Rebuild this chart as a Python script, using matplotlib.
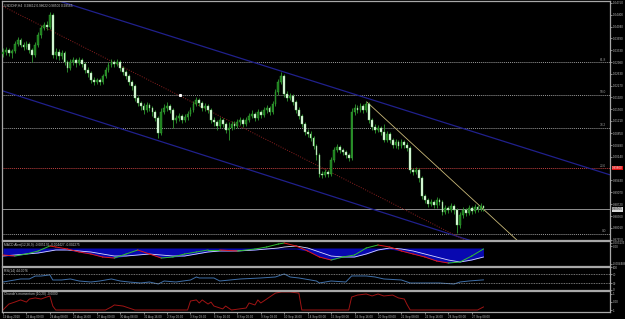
import matplotlib
matplotlib.use("Agg")
import matplotlib.pyplot as plt
import numpy as np

plt.rcParams["font.family"] = ["Liberation Sans", "DejaVu Sans"]

# ---------------- data ----------------
first_open = 1.0322
closes = [1.0328,1.0334,1.0325,1.0331,1.0352,1.0364,1.0349,1.0343,1.0352,1.0334,
          1.0319,1.0349,1.0379,1.0400,1.0409,1.0403,1.0439,1.0319,1.0328,1.0316,
          1.0325,1.0298,1.0280,1.0298,1.0304,1.0295,1.0304,1.0292,1.0274,1.0265,
          1.0244,1.0238,1.0244,1.0238,1.0256,1.0274,1.0289,1.0298,1.0292,1.0298,
          1.0280,1.0268,1.0256,1.0238,1.0226,1.0190,1.0175,1.0166,1.0154,1.0169,
          1.0160,1.0148,1.0130,1.0085,1.0148,1.0160,1.0166,1.0154,1.0124,1.0130,
          1.0136,1.0124,1.0133,1.0142,1.0154,1.0172,1.0184,1.0175,1.0160,1.0166,
          1.0154,1.0124,1.0118,1.0106,1.0124,1.0112,1.0094,1.0100,1.0112,1.0106,
          1.0118,1.0124,1.0112,1.0124,1.0136,1.0142,1.0130,1.0148,1.0139,1.0154,
          1.0160,1.0148,1.0172,1.0208,1.0238,1.0256,1.0202,1.0190,1.0196,1.0178,
          1.0154,1.0136,1.0112,1.0088,1.0082,1.0070,1.0046,1.0019,0.9962,0.9959,
          0.9968,0.9962,1.0004,1.0034,1.0043,1.0034,1.0028,1.0019,1.0010,1.0148,
          1.0160,1.0154,1.0166,1.0154,1.0172,1.0124,1.0103,1.0094,1.0100,1.0088,
          1.0064,1.0082,1.0064,1.0049,1.0058,1.0046,1.0058,1.0049,1.0040,0.9974,
          0.9968,0.9974,0.9950,0.9896,0.9884,0.9872,0.9878,0.9869,0.9884,0.9878,
          0.9848,0.9860,0.9854,0.9866,0.9854,0.9809,0.9839,0.9854,0.9845,0.9860,
          0.9851,0.9863,0.9857,0.9866,0.9860]
highs = [1.0340,1.0343,1.0340,1.0337,1.0361,1.0373,1.0370,1.0358,1.0361,1.0358,
         1.0340,1.0358,1.0388,1.0409,1.0418,1.0421,1.0448,1.0445,1.0340,1.0337,
         1.0334,1.0331,1.0304,1.0307,1.0313,1.0310,1.0313,1.0310,1.0298,1.0283,
         1.0271,1.0253,1.0250,1.0250,1.0262,1.0283,1.0298,1.0307,1.0304,1.0307,
         1.0304,1.0286,1.0274,1.0262,1.0244,1.0232,1.0196,1.0181,1.0175,1.0178,
         1.0175,1.0166,1.0154,1.0136,1.0160,1.0172,1.0178,1.0172,1.0160,1.0139,
         1.0145,1.0142,1.0142,1.0151,1.0163,1.0181,1.0193,1.0190,1.0181,1.0175,
         1.0172,1.0160,1.0133,1.0124,1.0133,1.0130,1.0118,1.0118,1.0121,1.0121,
         1.0127,1.0133,1.0130,1.0133,1.0145,1.0154,1.0148,1.0157,1.0154,1.0163,
         1.0169,1.0166,1.0181,1.0217,1.0247,1.0268,1.0262,1.0211,1.0205,1.0202,
         1.0184,1.0163,1.0142,1.0118,1.0097,1.0091,1.0076,1.0052,1.0025,0.9971,
         0.9977,0.9974,1.0013,1.0043,1.0052,1.0049,1.0040,1.0034,1.0025,1.0160,
         1.0172,1.0169,1.0175,1.0172,1.0181,1.0178,1.0130,1.0112,1.0109,1.0106,
         1.0112,1.0091,1.0088,1.0070,1.0067,1.0064,1.0067,1.0064,1.0058,1.0046,
         0.9980,0.9983,0.9980,0.9956,0.9902,0.9890,0.9887,0.9884,0.9893,0.9890,
         0.9884,0.9869,0.9866,0.9875,0.9872,0.9860,0.9848,0.9863,0.9860,0.9869,
         0.9866,0.9872,0.9869,0.9875,0.9869]
lows = [1.0313,1.0319,1.0316,1.0310,1.0325,1.0346,1.0343,1.0334,1.0337,1.0325,
        1.0298,1.0313,1.0343,1.0370,1.0394,1.0394,1.0397,1.0310,1.0307,1.0304,
        1.0307,1.0289,1.0268,1.0274,1.0289,1.0283,1.0289,1.0283,1.0265,1.0253,
        1.0235,1.0229,1.0232,1.0229,1.0232,1.0250,1.0268,1.0283,1.0283,1.0286,
        1.0271,1.0259,1.0247,1.0229,1.0214,1.0181,1.0166,1.0154,1.0142,1.0148,
        1.0151,1.0136,1.0121,1.0070,1.0079,1.0142,1.0151,1.0145,1.0100,1.0115,
        1.0121,1.0115,1.0118,1.0124,1.0136,1.0148,1.0166,1.0166,1.0151,1.0151,
        1.0145,1.0115,1.0106,1.0094,1.0100,1.0103,1.0085,1.0064,1.0094,1.0097,
        1.0100,1.0109,1.0103,1.0106,1.0118,1.0130,1.0121,1.0124,1.0130,1.0133,
        1.0145,1.0139,1.0142,1.0166,1.0199,1.0232,1.0193,1.0181,1.0184,1.0169,
        1.0145,1.0127,1.0103,1.0079,1.0073,1.0061,1.0037,1.0004,0.9953,0.9950,
        0.9953,0.9953,0.9956,0.9998,1.0028,1.0025,1.0019,1.0010,1.0001,1.0004,
        1.0139,1.0145,1.0148,1.0145,1.0148,1.0115,1.0094,1.0085,1.0088,1.0079,
        1.0058,1.0058,1.0055,1.0040,1.0040,1.0037,1.0040,1.0040,1.0031,0.9965,
        0.9959,0.9962,0.9938,0.9887,0.9875,0.9863,0.9866,0.9860,0.9860,0.9869,
        0.9839,0.9842,0.9845,0.9848,0.9842,0.9785,0.9800,0.9830,0.9836,0.9839,
        0.9842,0.9845,0.9848,0.9851,0.9851]
opens = [first_open] + closes[:-1]   # FX bars open at the previous close

price_ticks = [1.04750,1.04400,1.04040,1.03690,1.03330,1.02980,1.02630,1.02270,
               1.01920,1.01560,1.01210,1.00850,1.00490,1.00140,0.99430,
               0.99070,0.98720,0.98360,0.98010,0.97650]
time_labels = ["19 Aug 2010","23 Aug 00:00","24 Aug 08:00","25 Aug 16:00","27 Aug 00:00",
               "30 Aug 08:00","31 Aug 16:00","2 Sep 00:00","3 Sep 08:00","6 Sep 16:00",
               "8 Sep 00:00","9 Sep 08:00","10 Sep 16:00","14 Sep 00:00","15 Sep 08:00",
               "16 Sep 16:00","20 Sep 00:00","21 Sep 08:00","22 Sep 16:00","24 Sep 00:00",
               "27 Sep 08:00"]
time_label_bars = list(range(0, 161, 8))

fib_low, fib_high = 0.9782, 1.0616
fib_levels = [0.0, 23.6, 38.2, 50.0, 61.8]
bid_price = 0.98565
alert_price = 0.99800

upper_channel = ([0, 207], [1.0534, 0.9960])
lower_channel = ([0, 207], [1.0211, 0.9629])
regression_line = ([0, 207], [1.0465, 0.9544])
trend_line = ([124.2, 175.4], [1.0178, 0.9764])

ind_bars = [0,4,8,12,16,18,22,26,30,34,38,42,46,50,54,58,62,66,70,74,80,86,90,94,96,
            100,104,108,112,116,120,124,128,132,136,140,144,148,152,156,160,164]
macd_main = [-0.0028,-0.0032,-0.0024,-0.0012,0.0008,0.0004,-0.0004,-0.0016,-0.0024,-0.0036,
             -0.0040,-0.0024,-0.0008,-0.0024,-0.0040,-0.0036,-0.0024,-0.0016,-0.0008,-0.0008,
             -0.0012,-0.0004,0.0004,0.0016,0.0020,0.0008,-0.0012,-0.0036,-0.0048,-0.0036,
             -0.0028,0.0000,0.0012,0.0004,-0.0012,-0.0024,-0.0036,-0.0052,-0.0060,-0.0056,
             -0.0032,-0.0004]
macd_signal = [-0.0032,-0.0028,-0.0024,-0.0020,-0.0012,-0.0008,-0.0008,-0.0012,-0.0016,-0.0024,
               -0.0032,-0.0032,-0.0028,-0.0024,-0.0028,-0.0032,-0.0032,-0.0024,-0.0016,-0.0012,
               -0.0012,-0.0008,-0.0004,0.0000,0.0004,0.0008,0.0000,-0.0016,-0.0032,-0.0036,
               -0.0036,-0.0024,-0.0008,0.0000,-0.0004,-0.0012,-0.0024,-0.0036,-0.0048,-0.0056,
               -0.0048,-0.0036]
macd_hist = [-0.0032,-0.0032,-0.0024,-0.0020,-0.0012,-0.0008,-0.0008,-0.0016,-0.0024,-0.0036,
             -0.0040,-0.0032,-0.0028,-0.0024,-0.0040,-0.0036,-0.0032,-0.0024,-0.0016,-0.0012,
             -0.0012,-0.0008,-0.0004,-0.0004,-0.0004,-0.0004,-0.0012,-0.0036,-0.0048,-0.0036,
             -0.0036,-0.0024,-0.0008,-0.0004,-0.0012,-0.0024,-0.0036,-0.0052,-0.0060,-0.0056,
             -0.0048,-0.0036]

rsi_bars = [0,2,6,9,11,13,16,17,20,23,26,30,33,37,40,43,47,50,53,55,59,64,66,67,72,74,81,
            88,93,96,98,101,107,108,112,117,119,124,127,130,136,139,142,144,149,154,156,159,164]
rsi_vals = [34.6,39,48,48,61,61,66,43.5,43.5,48,39,34.6,39,48,39,34.6,30.2,34.6,25.8,39,34.6,
            43.5,56.8,52.4,52.4,39,48,52.4,56.8,70.2,56.8,52.4,39,30.2,39,34.6,61.3,61.3,56.8,
            48,43.5,30.2,30.2,30.2,30.2,25.8,34.6,39,44.0]

cmo_bars = [0,1,2,4,6,8,9,11,13,14,16,17,18,35,37,38,41,43,45,63,64,66,67,68,70,71,72,75,76,
            78,83,84,86,87,88,91,93,95,98,101,102,118,119,121,124,126,128,130,133,135,137,138,
            139,162,164]
cmo_vals = [0,0.17,0.33,0.44,0.56,0.44,0.61,0.67,0.61,0.67,0.78,0.22,0,0,0.17,0.28,0.22,0.11,0,
            0,0.5,0.56,0.39,0.56,0.33,0.44,0.22,0.06,0.22,0,0.11,0.39,0.28,0.56,0.39,0.72,0.94,
            1.0,1.0,0.94,0,0,0.72,0.83,0.89,0.78,0.89,0.78,0.83,0.67,0.61,0.28,0,0,0.17]

# ---------------- figure ----------------
W, H = 625, 319
fig = plt.figure(figsize=(W/100, H/100), dpi=100, facecolor="black")
TICKFS = 2.2
TITLEFS = 2.3

def px_axes(left, top, right, bottom):
    a = fig.add_axes([left/W, 1-bottom/H, (right-left)/W, (bottom-top)/H])
    a.set_facecolor("black")
    for s in a.spines.values():
        s.set_color("#a8a8a8")
        s.set_linewidth(0.9)
    a.set_xlim(-0.34, 207.2)
    a.yaxis.tick_right()
    a.tick_params(axis="y", colors="#b8b8b8", labelsize=TICKFS, length=1.2, width=0.5, pad=0.8)
    a.tick_params(axis="x", bottom=False, labelbottom=False)
    return a

ax = px_axes(2, 1, 610, 240)
mac = px_axes(2, 241, 610, 266)
rsa = px_axes(2, 267, 610, 290)
cma = px_axes(2, 291, 610, 312)

TXT = "#c8c8c8"
# main price chart
ax.set_ylim(0.9764, 1.0481)
n = len(closes)
idx = np.arange(n)
o = np.array(opens); c = np.array(closes); hi = np.array(highs); lo = np.array(lows)
ax.vlines(idx, lo, hi, color="#2f9a2f", lw=0.6, zorder=3)
up = c >= o
body_bot = np.minimum(o, c)
body_h = np.maximum(np.abs(c - o), 0.00012)
ax.bar(idx[up], body_h[up], bottom=body_bot[up], width=0.6, color="#1e7a1e",
       edgecolor="#36b036", linewidth=0.3, zorder=4)
ax.bar(idx[~up], body_h[~up], bottom=body_bot[~up], width=0.6, color="#e8ffe8",
       edgecolor="#7ccf7c", linewidth=0.3, zorder=4)

# fibonacci levels
for lv in fib_levels:
    p = fib_low + (fib_high - fib_low) * lv / 100
    col = "#c04040" if lv == 23.6 else "#9a9a9a"
    ax.axhline(p, color=col, lw=0.7, ls=(0, (1, 1)), zorder=2)
    ax.text(205.8, p + 0.0002, f"{lv:.1f}", color="#9a9a9a", fontsize=2.3,
            ha="right", va="bottom", zorder=5)
ax.axhline(bid_price, color="#909090", lw=0.7, zorder=2)

ax.plot(*upper_channel, color="#20208c", lw=0.9, zorder=2)
ax.plot(*lower_channel, color="#20208c", lw=0.9, zorder=2)
ax.plot(*regression_line, color="#8c2020", lw=0.7, ls=(0, (1, 1.5)), zorder=2)
ax.plot(*trend_line, color="#c8b878", lw=0.6, zorder=2)
ax.plot([60.4], [fib_low + (fib_high - fib_low) * 0.5], marker="s", ms=1.2, color="white", zorder=5)

ax.set_yticks(price_ticks)
ax.set_yticklabels([f"{t:.5f}" for t in price_ticks])
ax.text(1.0035, alert_price, "0.99800", transform=ax.get_yaxis_transform(), fontsize=TICKFS,
        color="white", va="center", ha="left",
        bbox=dict(boxstyle="square,pad=0.12", fc="#e01010", ec="none"))
ax.text(1.0035, bid_price, "0.98565", transform=ax.get_yaxis_transform(), fontsize=TICKFS,
        color="black", va="center", ha="left",
        bbox=dict(boxstyle="square,pad=0.12", fc="#d8d8d8", ec="none"))
ax.text(0.004, 0.988, "USDCHF,H4  0.98612 0.98622 0.98500 0.98565", transform=ax.transAxes,
        fontsize=TITLEFS, color=TXT, va="top", ha="left")

# MACD panel
mac.set_ylim(-0.0072, 0.0028)
mac.fill_between(ind_bars, 0, macd_hist, color="#0808b0", lw=0, zorder=2)
mac.plot(ind_bars, macd_signal, color="#d8d8ff", lw=0.6, zorder=3)
for k in range(len(ind_bars) - 1):
    col = "#30c030" if macd_main[k+1] >= macd_main[k] else "#e01818"
    mac.plot(ind_bars[k:k+2], macd_main[k:k+2], color=col, lw=0.7, zorder=4)
mac.set_yticks([0.0020, 0.0008, -0.0062])
mac.set_yticklabels(["0.003133", "0.00", "-0.004488"])
mac.text(0.004, 0.93, "MACD Alert(12,26,9) -0.005170 -0.004427 -0.002275", transform=mac.transAxes,
         fontsize=TITLEFS, color=TXT, va="top", ha="left", zorder=6)

# RSI panel
rsa.set_ylim(-0.8, 101)
rsa.plot(rsi_bars, rsi_vals, color="#3f6fa8", lw=0.7)
for lv in (70, 30):
    rsa.axhline(lv, color="#9a9a9a", lw=0.6, ls=(0, (1, 1)))
rsa.set_yticks([100, 70, 30, 0])
rsa.set_yticklabels(["100", "70", "30", "0"])
rsa.text(0.004, 0.93, "RSI(14) 44.0076", transform=rsa.transAxes,
         fontsize=TITLEFS, color=TXT, va="top", ha="left")

# Chande momentum panel
cma.set_ylim(-0.111, 1.056)
cma.plot(cmo_bars, cmo_vals, color="#a01414", lw=0.7)
cma.set_yticks([0.89, 0.45, 0.0])
cma.set_yticklabels(["1", "0.00", "-1"])
cma.text(0.004, 0.93, "Chande's momentum (10,20) -0.6000", transform=cma.transAxes,
         fontsize=TITLEFS, color=TXT, va="top", ha="left")
cma.tick_params(axis="x", bottom=True, labelbottom=True, colors="#b8b8b8",
                labelsize=TICKFS, length=1.2, width=0.5, pad=0.8)
cma.set_xticks(time_label_bars)
cma.set_xticklabels(time_labels)
for lab in cma.get_xticklabels():
    lab.set_ha("left")

fig.savefig("out.png", dpi=100, facecolor="black")
